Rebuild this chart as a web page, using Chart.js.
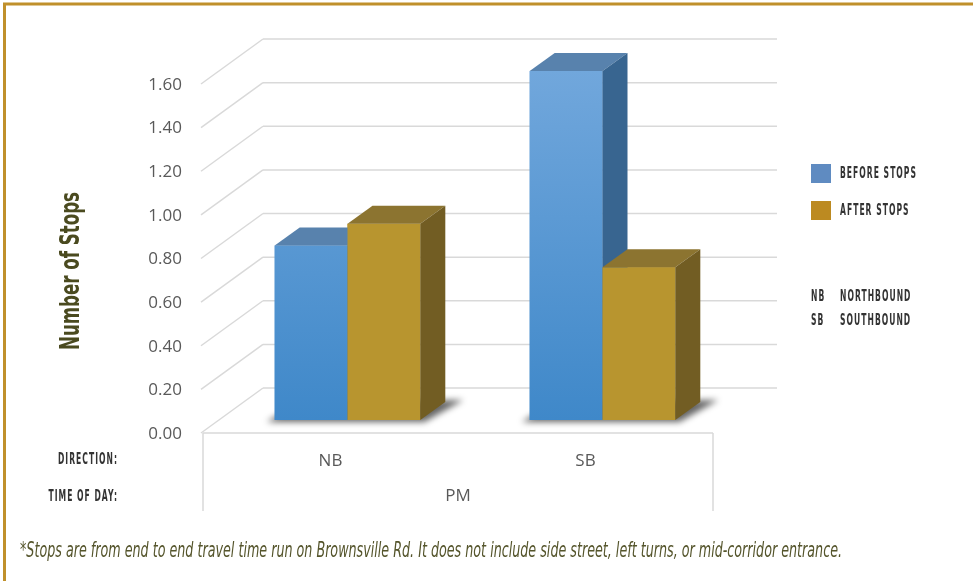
<!DOCTYPE html>
<html>
<head>
<meta charset="utf-8">
<script src="https://cdn.jsdelivr.net/npm/chart.js@4.4.1/dist/chart.umd.min.js"></script>
<style>
  html, body { margin: 0; padding: 0; background: #fff; overflow: hidden; }
  #wrap { position: relative; width: 973px; height: 581px; }
</style>
</head>
<body>
<div id="wrap"><canvas id="chart" width="973" height="581"></canvas></div>
<script>
// values
const directions = ['NB', 'SB'];
const timeOfDay = 'PM';
const beforeStops = [0.80, 1.60];
const afterStops = [0.90, 0.70];
const seriesNames = ['BEFORE STOPS', 'AFTER STOPS'];
const keyCodes = ['NB', 'SB'];
const keyNames = ['NORTHBOUND', 'SOUTHBOUND'];
const rowLabels = ['DIRECTION:', 'TIME OF DAY:'];
const yTitle = 'Number of Stops';
const footnote = '*Stops are from end to end travel time run on Brownsville Rd. It does not include side street, left turns, or mid-corridor entrance.';

// colours: top face, side face, legend swatch
const blueFaces = { top: '#5882ad', side: '#386590', swatch: '#5f8bc1' };
const goldFaces = { front: '#b8952f', top: '#8c7430', side: '#725d23', swatch: '#bc8a21' };
const faces = [blueFaces, goldFaces];

// 3D offsets relative to the plane of the bar fronts
const FRONT = { x: -17, y: 13 };
const BACK_OF_BAR = { x: 25, y: -18 };
const WALL = { x: 43, y: -32 };

function poly(ctx, pts, fill) {
  ctx.beginPath();
  ctx.moveTo(pts[0][0], pts[0][1]);
  for (let i = 1; i < pts.length; i++) ctx.lineTo(pts[i][0], pts[i][1]);
  ctx.closePath();
  ctx.fillStyle = fill;
  ctx.fill();
}

function line(ctx, x1, y1, x2, y2) {
  ctx.beginPath();
  ctx.moveTo(x1, y1);
  ctx.lineTo(x2, y2);
  ctx.stroke();
}

// condensed-looking text: squeeze a normal font horizontally
function txt(ctx, s, x, y, font, color, align, sx, rot, spacing) {
  ctx.save();
  ctx.font = font;
  ctx.letterSpacing = spacing || '0px';
  ctx.fillStyle = color;
  ctx.textAlign = align;
  ctx.textBaseline = 'middle';
  ctx.translate(x, y);
  if (rot) ctx.rotate(rot);
  ctx.scale(sx, 1);
  ctx.fillText(s, 0, 0);
  ctx.restore();
}

function fitScale(ctx, s, font, width, spacing) {
  ctx.save();
  ctx.font = font;
  ctx.letterSpacing = spacing || '0px';
  const w = ctx.measureText(s).width;
  ctx.restore();
  return width / w;
}

const LABEL_FONT = 'bold 15px "DejaVu Sans"';
const LABEL_SPACING = '2px';
const LABEL_COLOR = '#333333';

const threeD = {
  id: 'threeD',
  beforeDatasetsDraw(chart) {
    const ctx = chart.ctx, ys = chart.scales.y, a = chart.chartArea;
    ctx.save();
    ctx.strokeStyle = '#d9d9d9';
    ctx.lineWidth = 1.5;
    ys.ticks.forEach(t => {
      const y = ys.getPixelForValue(t.value);
      line(ctx, a.left + FRONT.x - 2, y + FRONT.y, a.left + WALL.x, y + WALL.y);
      line(ctx, a.left + WALL.x, y + WALL.y, a.right + WALL.x + 4, y + WALL.y);
    });
    // front floor edge and category table
    const y0 = ys.getPixelForValue(0) + FRONT.y;
    line(ctx, a.left + FRONT.x, y0, a.right + FRONT.x, y0);
    line(ctx, a.left + FRONT.x, y0, a.left + FRONT.x, y0 + 78);
    line(ctx, a.right + FRONT.x, y0, a.right + FRONT.x, y0 + 78);
    ctx.restore();

    // soft shadows under each group of bars
    const m0 = chart.getDatasetMeta(0).data, m1 = chart.getDatasetMeta(1).data;
    ctx.save();
    ctx.filter = 'blur(3px)';
    m0.forEach((b0, i) => {
      const b1 = m1[i];
      const l = b0.x - b0.width / 2, r = b1.x + b1.width / 2, base = b0.base;
      poly(ctx, [[l - 8, base + 2], [r + 4, base + 2],
                 [r + BACK_OF_BAR.x + 18, base + BACK_OF_BAR.y - 2], [l + BACK_OF_BAR.x, base + BACK_OF_BAR.y]],
           'rgba(0,0,0,0.6)');
    });
    ctx.restore();
  },
  afterDatasetsDraw(chart) {
    // redraw each box left to right: front (library element), then top and side faces
    const ctx = chart.ctx;
    const metas = chart.data.datasets.map((_, d) => chart.getDatasetMeta(d));
    directions.forEach((_, i) => {
      metas.forEach((meta, d) => {
        const el = meta.data[i], f = faces[d];
        el.draw(ctx, chart.chartArea);
        const l = el.x - el.width / 2, r = el.x + el.width / 2, t = el.y, b = el.base;
        const dx = BACK_OF_BAR.x, dy = BACK_OF_BAR.y;
        poly(ctx, [[l, t], [r, t], [r + dx, t + dy], [l + dx, t + dy]], f.top);
        poly(ctx, [[r, t], [r + dx, t + dy], [r + dx, b + dy], [r, b]], f.side);
      });
    });
  },
  afterDraw(chart) {
    const ctx = chart.ctx, xs = chart.scales.x, ys = chart.scales.y;
    const y0 = ys.getPixelForValue(0) + FRONT.y;
    const sx = fitScale(ctx, seriesNames[0], LABEL_FONT, 77, LABEL_SPACING);

    // second level of the category axis
    const mid = (xs.getPixelForValue(0) + xs.getPixelForValue(directions.length - 1)) / 2 + FRONT.x;
    txt(ctx, timeOfDay, mid, y0 + 63, '17px "Open Sans"', '#595959', 'center', 1);

    // row captions left of the category table
    txt(ctx, rowLabels[0], 118, y0 + 27, LABEL_FONT, LABEL_COLOR, 'right', sx, 0, LABEL_SPACING);
    txt(ctx, rowLabels[1], 118, y0 + 64, LABEL_FONT, LABEL_COLOR, 'right', sx, 0, LABEL_SPACING);

    // legend
    chart.data.datasets.forEach((ds, i) => {
      const y = 164 + i * 37;
      ctx.fillStyle = faces[i].swatch;
      ctx.fillRect(811, y, 20, 19);
      txt(ctx, ds.label, 840, y + 10, LABEL_FONT, LABEL_COLOR, 'left', sx, 0, LABEL_SPACING);
    });
    keyCodes.forEach((c, i) => {
      const y = 297 + i * 24;
      txt(ctx, c, 811, y, LABEL_FONT, LABEL_COLOR, 'left', sx, 0, LABEL_SPACING);
      txt(ctx, keyNames[i], 840, y, LABEL_FONT, LABEL_COLOR, 'left', sx, 0, LABEL_SPACING);
    });

    // axis title
    const tFont = 'bold 26px "DejaVu Sans"';
    txt(ctx, yTitle, 72, 271, tFont, '#4a4a1f', 'center', fitScale(ctx, yTitle, tFont, 158), -Math.PI / 2);

    // footnote
    const fFont = 'oblique 21px "DejaVu Sans"';
    txt(ctx, footnote, 20, 552, fFont, '#55552c', 'left', fitScale(ctx, footnote, fFont, 822));

    // frame
    ctx.save();
    ctx.strokeStyle = '#c0902b';
    ctx.lineWidth = 3;
    ctx.beginPath();
    ctx.moveTo(973, 4);
    ctx.lineTo(4.5, 4);
    ctx.lineTo(4.5, 581);
    ctx.stroke();
    ctx.restore();
  }
};

new Chart(document.getElementById('chart'), {
  type: 'bar',
  data: {
    labels: directions,
    datasets: [
      {
        label: seriesNames[0],
        data: beforeStops,
        backgroundColor: (c) => {
          const a = c.chart.chartArea;
          if (!a) return blueFaces.swatch;
          const g = c.chart.ctx.createLinearGradient(0, a.top, 0, a.bottom);
          g.addColorStop(0, '#71a7dc');
          g.addColorStop(1, '#3f88c9');
          return g;
        },
        borderWidth: 0
      },
      {
        label: seriesNames[1],
        data: afterStops,
        backgroundColor: goldFaces.front,
        borderWidth: 0
      }
    ]
  },
  options: {
    responsive: false,
    animation: false,
    devicePixelRatio: 1,
    layout: { padding: { top: 71, right: 243, left: 0, bottom: 0 } },
    datasets: { bar: { categoryPercentage: 0.571, barPercentage: 1 } },
    plugins: { legend: { display: false }, tooltip: { enabled: false } },
    scales: {
      x: {
        grid: { display: false, drawTicks: false },
        border: { display: false },
        ticks: { padding: 31, labelOffset: FRONT.x, color: '#595959', font: { family: 'Open Sans', size: 17 } },
        afterFit: (s) => { s.height = 161; }
      },
      y: {
        min: 0,
        max: 1.6,
        grid: { display: false, drawTicks: false },
        border: { display: false },
        ticks: {
          stepSize: 0.2,
          padding: 38,
          labelOffset: FRONT.y + 1,
          color: '#595959',
          font: { family: 'Open Sans', size: 17 },
          callback: (v) => v.toFixed(2)
        },
        afterFit: (s) => { s.width = 220; }
      }
    }
  },
  plugins: [threeD]
});
</script>
</body>
</html>
